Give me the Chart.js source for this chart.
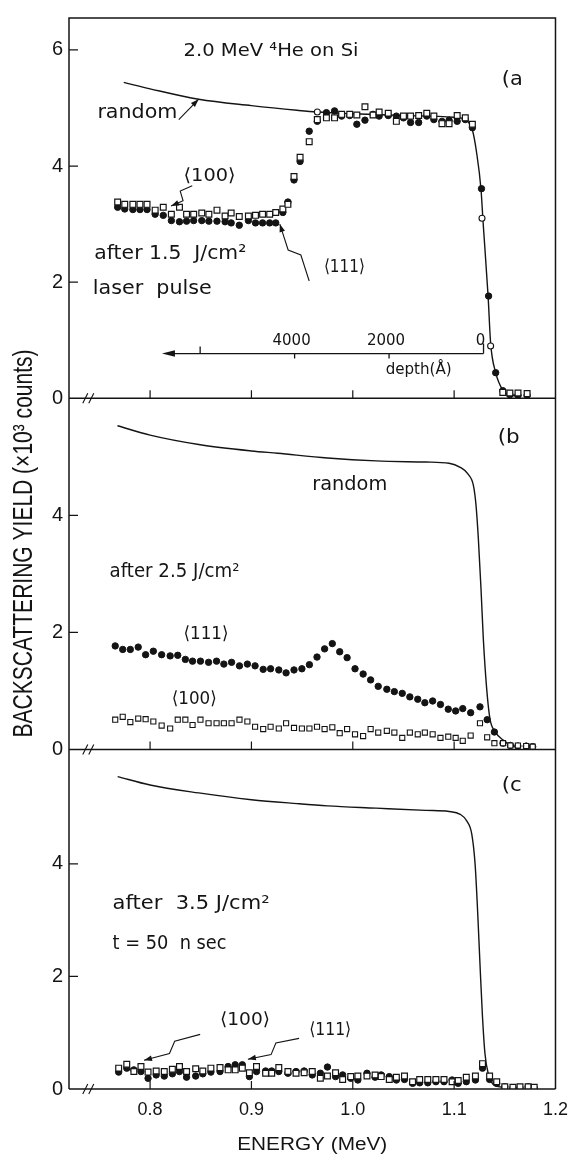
<!DOCTYPE html>
<html>
<head>
<meta charset="utf-8">
<script src="https://cdn.jsdelivr.net/npm/chart.js@4.4.1/dist/chart.umd.min.js"></script>
<style>
html, body { margin: 0; padding: 0; background: #ffffff; }
#wrap { position: relative; width: 578px; height: 1158px; }
canvas { display: block; }
</style>
</head>
<body>
<div id="wrap"><canvas id="chart" width="578" height="1158"></canvas></div>
<script>
// ---------------- data ----------------
const xTickValues = [0.8, 0.9, 1.0, 1.1, 1.2];
const yTickValuesA = [0, 2, 4, 6];
const yTickValuesBC = [0, 2, 4];
const depthTickValues = [0, 2000, 4000, 6000];
const depthTickLabels = ['0', '2000', '4000', ''];

// panel (a): after 1.5 J/cm2 laser pulse
const energiesA = [0.768,0.775,0.783,0.790,0.797,0.805,0.813,0.821,0.829,0.836,0.843,0.851,0.858,0.866,0.874,0.880,0.888,0.897,0.904,0.911,0.918,0.924,0.931,0.936,0.942,0.948,0.957,0.965,0.974,0.982,0.989,0.997,1.004,1.012,1.020,1.026,1.035,1.043,1.050,1.057,1.065,1.073,1.080,1.088,1.095,1.103,1.111,1.118,1.127,1.134,1.141,1.148,1.155,1.163,1.172];
const a100 = [3.38,3.34,3.34,3.34,3.34,3.24,3.29,3.17,3.29,3.17,3.17,3.19,3.17,3.24,3.14,3.19,3.13,3.14,3.15,3.17,3.17,3.20,3.26,3.34,3.82,4.15,4.42,4.80,4.83,4.83,4.89,4.89,4.88,5.02,4.88,4.93,4.91,4.77,4.86,4.86,4.87,4.91,4.86,4.73,4.73,4.87,4.83,4.72,null,null,null,0.10,0.09,0.09,0.08];
const a111 = [3.29,3.26,3.25,3.25,3.25,3.17,3.15,3.06,3.04,3.05,3.06,3.06,3.05,3.05,3.04,3.02,2.98,3.06,3.02,3.02,3.02,3.02,3.20,3.38,3.76,4.08,4.60,4.77,4.92,4.95,4.86,4.87,4.72,4.79,4.89,4.86,4.87,4.86,4.83,4.75,4.75,4.86,4.80,4.77,4.79,4.77,4.80,4.66,3.61,1.76,0.44,0.13,0.06,0.05,0.05];
const aOpenEnergies = [0.965, 1.1275, 1.136];
const aOpen = [4.93, 3.10, 0.90];
const randomEnergiesA = [0.774,0.800,0.848,0.900,0.945,0.965,1.000,1.050,1.100,1.111,1.118,1.122,1.1265,1.1285,1.1335,1.136,1.141,1.148,1.155,1.165];
const randomA = [5.44,5.33,5.15,5.04,4.96,4.93,4.90,4.87,4.84,4.80,4.62,4.25,3.60,3.05,1.76,0.95,0.44,0.14,0.06,0.04];

// panel (b): after 2.5 J/cm2
const energiesB = [0.7656,0.7730,0.7805,0.7883,0.7956,0.8032,0.8114,0.8198,0.8273,0.8348,0.8419,0.8497,0.8577,0.8656,0.8728,0.8804,0.8882,0.8960,0.9036,0.9116,0.9189,0.9270,0.9342,0.9420,0.9498,0.9572,0.9647,0.9722,0.9798,0.9871,0.9944,1.0022,1.0102,1.0176,1.0251,1.0336,1.0410,1.0488,1.0563,1.0641,1.0711,1.0788,1.0865,1.0942,1.1015,1.1085,1.1163,1.1255,1.1326,1.1397,1.1482,1.1555,1.1629,1.1711,1.1775];
const b111 = [1.77,1.71,1.71,1.75,1.62,1.68,1.62,1.60,1.61,1.54,1.51,1.51,1.49,1.51,1.46,1.49,1.43,1.46,1.43,1.37,1.38,1.36,1.31,1.36,1.38,1.45,1.58,1.72,1.81,1.67,1.57,1.38,1.29,1.19,1.08,1.03,0.99,0.96,0.90,0.86,0.80,0.83,0.77,0.69,0.66,0.70,0.63,0.73,0.51,0.30,0.11,0.07,0.06,0.06,0.05];
const b100 = [0.51,0.56,0.47,0.53,0.52,0.48,0.41,0.36,0.51,0.51,0.42,0.51,0.45,0.45,0.45,0.45,0.51,0.48,0.39,0.35,0.39,0.36,0.45,0.37,0.36,0.36,0.39,0.35,0.38,0.28,0.35,0.26,0.23,0.35,0.29,0.32,0.29,0.20,0.29,0.26,0.29,0.26,0.20,0.22,0.20,0.15,0.24,0.45,0.21,0.11,0.11,0.07,0.07,0.06,0.05];
const randomEnergiesB = [0.7678,0.800,0.848,0.900,0.926,0.975,1.023,1.072,1.095,1.106,1.114,1.119,1.1216,1.1239,1.1265,1.1288,1.1321,1.1353,1.1402,1.1499,1.1596];
const randomB = [5.53,5.37,5.21,5.10,5.06,4.98,4.93,4.91,4.89,4.82,4.70,4.51,4.17,3.60,2.75,1.89,1.04,0.53,0.31,0.14,0.05];

// panel (c): after 3.5 J/cm2, t = 50 ns
const energiesC = [0.769,0.777,0.784,0.791,0.798,0.806,0.814,0.822,0.829,0.836,0.845,0.852,0.860,0.869,0.877,0.884,0.891,0.898,0.905,0.914,0.920,0.927,0.936,0.944,0.952,0.960,0.968,0.975,0.983,0.990,0.998,1.005,1.014,1.022,1.028,1.036,1.043,1.051,1.059,1.066,1.074,1.082,1.090,1.098,1.104,1.112,1.121,1.128,1.135,1.142,1.150,1.158,1.165,1.173,1.179];
const c100 = [0.37,0.44,0.31,0.40,0.30,0.32,0.31,0.35,0.40,0.31,0.36,0.32,0.37,0.38,0.34,0.34,0.37,0.29,0.40,0.28,0.28,0.38,0.31,0.28,0.29,0.31,0.19,0.23,0.29,0.17,0.22,0.23,0.23,0.25,0.22,0.17,0.21,0.23,0.13,0.17,0.17,0.17,0.17,0.13,0.15,0.21,0.23,0.45,0.23,0.13,0.04,0.03,0.04,0.04,0.03];
const c111 = [0.30,0.37,0.34,0.31,0.19,0.25,0.23,0.27,0.31,0.21,0.23,0.27,0.30,0.31,0.40,0.43,0.43,0.22,0.31,0.32,0.32,0.31,0.28,0.31,0.32,0.25,0.28,0.39,0.22,0.25,0.19,0.16,0.28,0.21,0.25,0.22,0.16,0.17,0.10,0.11,0.11,0.13,0.13,0.16,0.10,0.13,0.16,0.37,0.17,0.10,0.04,0.02,0.02,0.04,0.02];
const randomEnergiesC = [0.768,0.800,0.848,0.900,0.945,0.975,1.023,1.072,1.095,1.106,1.1126,1.1174,1.1207,1.1233,1.1255,1.1278,1.1304,1.1336,1.1402,1.150];
const randomC = [5.55,5.40,5.26,5.14,5.07,5.03,4.99,4.95,4.93,4.88,4.76,4.53,3.99,3.11,2.22,1.34,0.63,0.28,0.06,0.03];

// depth scale of panel (a): surface edge energy and energy loss per Angstrom
const surfaceEnergy = 1.129;
const energyPerAngstrom = 4.66e-5;

// ---------------- layout / annotation settings ----------------
const INK = '#141414';
const TICK_FONT = 'Liberation Sans, Arial, sans-serif';
const NOTE_FONT = 'DejaVu Sans, sans-serif';
const axisBreakEnergy = 0.7395;
const depthAxisLevel = 0.77;
const depthArrowEnergy = 0.8117;

// [panel, energy, yield, text, font size, target width]
const notes = [
  ['a', 0.833, 5.97, '2.0 MeV \u2074He on Si', 18, 175],
  ['a', 1.147, 5.49, '(a', 20, 21],
  ['a', 0.748, 4.92, 'random', 20, 80],
  ['a', 0.833, 3.83, '\u27E8100\u27E9', 18, 52],
  ['a', 0.9715, 2.26, '\u27E8111\u27E9', 18, 41],
  ['a', 0.745, 2.49, 'after 1.5  J/cm\u00B2', 20, 152],
  ['a', 0.7435, 1.89, 'laser  pulse', 20, 119],
  ['b', 1.143, 5.33, '(b', 20, 22],
  ['b', 0.960, 4.51, 'random', 19, 75],
  ['b', 0.760, 3.03, 'after 2.5 J/cm\u00B2', 19, 130],
  ['b', 0.833, 1.96, '\u27E8111\u27E9', 18, 45],
  ['b', 0.8214, 0.85, '\u27E8100\u27E9', 18, 45],
  ['c', 1.147, 5.38, '(c', 20, 20],
  ['c', 0.763, 3.29, 'after  3.5 J/cm\u00B2', 19, 157],
  ['c', 0.763, 2.58, 't = 50  n sec', 19, 114],
  ['c', 0.869, 1.22, '\u27E8100\u27E9', 18, 50],
  ['c', 0.957, 1.04, '\u27E8111\u27E9', 18, 42]
];
// [panel, fromE, fromY, toE, toY, zigzag]
const arrows = [
  ['a', 0.8283, 4.80, 0.8478, 5.15, false],
  ['a', 0.8416, 3.66, 0.8207, 3.31, true],
  ['a', 0.957, 2.02, 0.9280, 3.00, true],
  ['c', 0.8494, 0.97, 0.7940, 0.51, true],
  ['c', 0.947, 0.90, 0.8965, 0.53, true]
];

// ---------------- helpers ----------------
const pts = (xs, ys) => xs.map((x, i) => ({ x: x, y: ys[i] })).filter(p => p.y !== null);

function fitText(ctx, text, x, y, size, width, family, align) {
  ctx.save();
  ctx.font = size + 'px ' + family;
  ctx.textBaseline = 'middle';
  ctx.textAlign = 'left';
  const m = ctx.measureText(text).width;
  const k = width ? width / m : 1;
  const w = width || m;
  const x0 = align === 'center' ? x - w / 2 : x;
  ctx.translate(x0, y);
  ctx.scale(k, 1);
  ctx.fillText(text, 0, 0);
  ctx.restore();
}

function arrowHead(ctx, x0, y0, x1, y1, len, half) {
  const a = Math.atan2(y1 - y0, x1 - x0);
  const bx = x1 - len * Math.cos(a), by = y1 - len * Math.sin(a);
  ctx.beginPath();
  ctx.moveTo(x1, y1);
  ctx.lineTo(bx + half * Math.sin(a), by - half * Math.cos(a));
  ctx.lineTo(bx - half * Math.sin(a), by + half * Math.cos(a));
  ctx.closePath();
  ctx.fill();
}

function drawArrow(ctx, x0, y0, x1, y1, zig) {
  ctx.beginPath();
  ctx.moveTo(x0, y0);
  let fx = x0, fy = y0;
  if (zig) {
    const dx = x1 - x0, dy = y1 - y0, L = Math.hypot(dx, dy);
    const nx = -dy / L, ny = dx / L, amp = 4.5;
    const p1x = x0 + dx * 0.42 + nx * amp, p1y = y0 + dy * 0.42 + ny * amp;
    const p2x = x0 + dx * 0.58 - nx * amp, p2y = y0 + dy * 0.58 - ny * amp;
    ctx.lineTo(p1x, p1y);
    ctx.lineTo(p2x, p2y);
    fx = p2x; fy = p2y;
  }
  ctx.lineTo(x1, y1);
  ctx.stroke();
  arrowHead(ctx, fx, fy, x1, y1, 8, 2.8);
}

const overlayPlugin = {
  id: 'overlay',
  afterDraw(chart) {
    const ctx = chart.ctx;
    const area = chart.chartArea;
    const xs = chart.scales.x;
    const ys = { a: chart.scales.yA, b: chart.scales.yB, c: chart.scales.yC };
    const X = e => xs.getPixelForValue(e);
    const Y = (p, v) => ys[p].getPixelForValue(v);
    ctx.save();
    ctx.strokeStyle = INK;
    ctx.fillStyle = INK;

    // frame
    ctx.lineWidth = 1.5;
    ctx.beginPath();
    ctx.moveTo(area.left, area.bottom);
    ctx.lineTo(area.left, area.top);
    ctx.lineTo(area.right, area.top);
    ctx.lineTo(area.right, area.bottom);
    ctx.stroke();

    const panelTicks = { a: yTickValuesA, b: yTickValuesBC, c: yTickValuesBC };
    for (const p of ['a', 'b', 'c']) {
      const y0 = Y(p, 0);
      ctx.lineWidth = 1.5;
      ctx.beginPath();
      ctx.moveTo(area.left, y0);
      ctx.lineTo(area.right, y0);
      ctx.stroke();
      ctx.lineWidth = 1.2;
      ctx.beginPath();
      for (const v of panelTicks[p]) {
        if (v === 0) continue;
        const y = Y(p, v);
        ctx.moveTo(area.left, y);
        ctx.lineTo(area.left + 9, y);
      }
      for (const e of xTickValues) {
        const x = X(e);
        if (x >= area.right - 1) continue;
        ctx.moveTo(x, y0);
        ctx.lineTo(x, y0 - 8);
      }
      ctx.stroke();
      // axis break marks
      const xb = X(axisBreakEnergy);
      ctx.lineWidth = 1.1;
      ctx.beginPath();
      ctx.moveTo(xb - 6, y0 + 5); ctx.lineTo(xb - 1, y0 - 5);
      ctx.moveTo(xb, y0 + 5); ctx.lineTo(xb + 5, y0 - 5);
      ctx.stroke();
    }

    // depth scale in panel (a)
    const yd = Y('a', depthAxisLevel);
    const dxs = depthTickValues.map(d => X(surfaceEnergy - d * energyPerAngstrom));
    const xArrow = X(depthArrowEnergy);
    ctx.lineWidth = 1.3;
    ctx.beginPath();
    ctx.moveTo(dxs[0], yd);
    ctx.lineTo(xArrow + 8, yd);
    ctx.moveTo(dxs[0], yd); ctx.lineTo(dxs[0], yd - 10);
    ctx.moveTo(dxs[1], yd); ctx.lineTo(dxs[1], yd + 5);
    ctx.moveTo(dxs[2], yd); ctx.lineTo(dxs[2], yd + 5);
    ctx.moveTo(dxs[3], yd); ctx.lineTo(dxs[3], yd - 7);
    ctx.stroke();
    arrowHead(ctx, xArrow + 20, yd, xArrow, yd, 13, 3.2);
    depthTickLabels.forEach((t, i) => {
      if (t) fitText(ctx, t, dxs[i] - 3, Y('a', 0.98), 15, 0, NOTE_FONT, 'center');
    });
    fitText(ctx, 'depth(\u00C5)', X(1.065), Y('a', 0.48), 15, 66, NOTE_FONT, 'center');

    // annotations
    for (const [p, e, v, t, s, w] of notes) {
      fitText(ctx, t, X(e), Y(p, v), s, w, NOTE_FONT, 'left');
    }
    ctx.lineWidth = 1.1;
    for (const [p, e0, v0, e1, v1, z] of arrows) {
      drawArrow(ctx, X(e0), Y(p, v0), X(e1), Y(p, v1), z);
    }

    // axis titles
    ctx.save();
    ctx.translate(24, Y('b', 3.52));
    ctx.rotate(-Math.PI / 2);
    fitText(ctx, 'BACKSCATTERING YIELD (\u00D710\u00B3 counts)', 0, 0, 28, 388, TICK_FONT, 'center');
    ctx.restore();
    fitText(ctx, 'ENERGY (MeV)', X(0.96), 1145, 18, 150, TICK_FONT, 'center');
    ctx.restore();
  }
};

function yScale(min, max, weight, stackWeight, ticks) {
  return {
    type: 'linear',
    position: 'left',
    stack: 'panels',
    stackWeight: stackWeight,
    weight: weight,
    min: min,
    max: max,
    afterBuildTicks: s => { s.ticks = ticks.map(v => ({ value: v })); },
    afterFit: s => { s.width = 69; },
    grid: { display: false, drawTicks: false },
    border: { display: false },
    ticks: {
      font: { family: TICK_FONT, size: 20 },
      color: INK,
      padding: 6,
      autoSkip: false,
      callback: v => String(v)
    }
  };
}

const pointSet = (label, data, axis, style) => Object.assign({
  type: 'scatter', label: label, data: data, yAxisID: axis, borderColor: INK
}, style);
const squareStyle = { pointStyle: 'rect', pointRadius: 4.1, pointBorderWidth: 1.2, backgroundColor: '#ffffff', order: 1 };
const smallSquareStyle = { pointStyle: 'rect', pointRadius: 3.6, pointBorderWidth: 1.1, backgroundColor: '#ffffff', order: 1 };
const dotStyle = { pointStyle: 'circle', pointRadius: 3.2, pointBorderWidth: 1, backgroundColor: INK, order: 2 };
const openDotStyle = { pointStyle: 'circle', pointRadius: 3.0, pointBorderWidth: 1.1, backgroundColor: '#ffffff', order: 0 };
const curve = (label, data, axis) => ({
  type: 'line', label: label, data: data, yAxisID: axis, borderColor: INK, borderWidth: 1.4,
  pointRadius: 0, fill: false, cubicInterpolationMode: 'monotone', order: 3
});

new Chart(document.getElementById('chart'), {
  type: 'scatter',
  data: {
    datasets: [
      curve('random (a)', pts(randomEnergiesA, randomA), 'yA'),
      pointSet('<100> (a)', pts(energiesA, a100), 'yA', squareStyle),
      pointSet('<111> (a)', pts(energiesA, a111), 'yA', dotStyle),
      pointSet('<100> (a) open', pts(aOpenEnergies, aOpen), 'yA', openDotStyle),
      curve('random (b)', pts(randomEnergiesB, randomB), 'yB'),
      pointSet('<100> (b)', pts(energiesB, b100), 'yB', smallSquareStyle),
      pointSet('<111> (b)', pts(energiesB, b111), 'yB', dotStyle),
      curve('random (c)', pts(randomEnergiesC, randomC), 'yC'),
      pointSet('<100> (c)', pts(energiesC, c100), 'yC', squareStyle),
      pointSet('<111> (c)', pts(energiesC, c111), 'yC', dotStyle)
    ]
  },
  options: {
    responsive: false,
    animation: false,
    events: [],
    layout: { padding: { left: 0, right: 14, top: 13, bottom: 0 } },
    plugins: { legend: { display: false }, tooltip: { enabled: false } },
    scales: {
      x: {
        type: 'linear',
        position: 'bottom',
        min: 0.72,
        max: 1.2,
        afterBuildTicks: s => { s.ticks = xTickValues.map(v => ({ value: v })); },
        afterFit: s => { s.height = 69; },
        grid: { display: false, drawTicks: false },
        border: { display: false },
        ticks: {
          font: { family: TICK_FONT, size: 18 },
          color: INK,
          padding: 10,
          autoSkip: false,
          maxRotation: 0,
          callback: v => Number(v).toFixed(1)
        }
      },
      yC: yScale(0, 6.03, 1, 341, yTickValuesBC),
      yB: yScale(0, 6.0, 2, 353, yTickValuesBC),
      yA: yScale(0, 6.55, 3, 382, yTickValuesA)
    }
  },
  plugins: [overlayPlugin]
});
</script>
</body>
</html>
